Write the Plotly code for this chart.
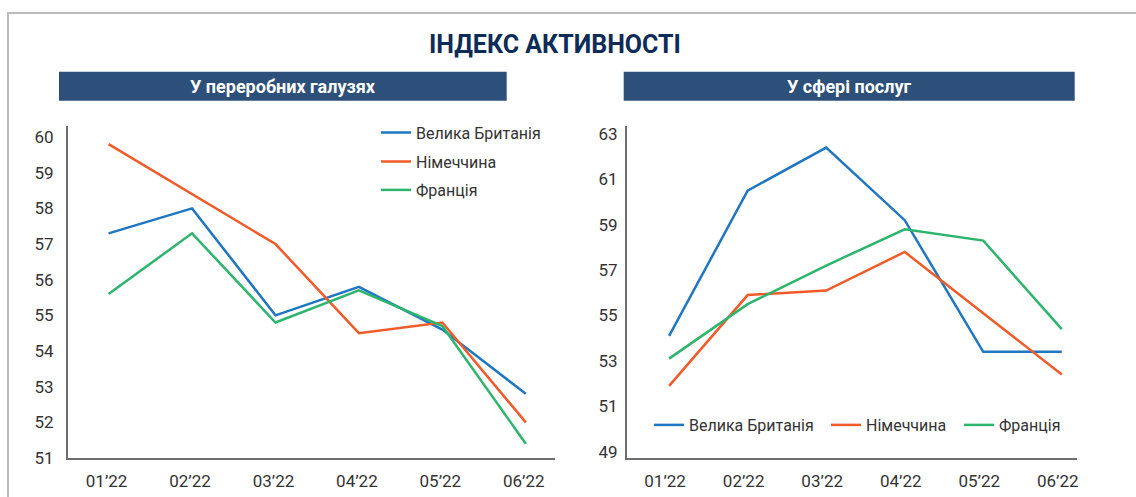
import plotly.graph_objects as go

# ---------------- data ----------------
months = ["01’22", "02’22", "03’22", "04’22", "05’22", "06’22"]
series_names = ["Велика Британія", "Німеччина", "Франція"]

manuf_uk = [57.3, 58.0, 55.0, 55.8, 54.6, 52.8]
manuf_de = [59.8, 58.4, 57.0, 54.5, 54.8, 52.0]
manuf_fr = [55.6, 57.3, 54.8, 55.7, 54.7, 51.4]

serv_uk = [54.1, 60.5, 62.4, 59.2, 53.4, 53.4]
serv_de = [51.9, 55.9, 56.1, 57.8, 55.1, 52.4]
serv_fr = [53.1, 55.5, 57.2, 58.8, 58.3, 54.4]

manuf_ticks = [51, 52, 53, 54, 55, 56, 57, 58, 59, 60]
serv_ticks = [49, 51, 53, 55, 57, 59, 61, 63]

title_text = "ІНДЕКС АКТИВНОСТІ"
panel_titles = ["У переробних галузях", "У сфері послуг"]

# ---------------- style ----------------
W, H = 1136, 497
colors = ["#1f77c2", "#f15a29", "#2db56e"]
FONT = "Roboto, sans-serif"
TXT = "#333333"
AXIS = "#6e6e6e"


def px_x(v):
    return v / W


def px_y(v):
    return 1 - v / H


fig = go.Figure()

manuf = [manuf_uk, manuf_de, manuf_fr]
serv = [serv_uk, serv_de, serv_fr]

left_legends = ["legend", "legend2", "legend3"]
right_legends = ["legend4", "legend5", "legend6"]

for i, name in enumerate(series_names):
    fig.add_trace(go.Scatter(
        x=months, y=manuf[i], mode="lines", name=name,
        line=dict(color=colors[i], width=2.5),
        xaxis="x", yaxis="y", legend=left_legends[i],
    ))
for i, name in enumerate(series_names):
    fig.add_trace(go.Scatter(
        x=months, y=serv[i], mode="lines", name=name,
        line=dict(color=colors[i], width=2.5),
        xaxis="x2", yaxis="y2", legend=right_legends[i],
    ))

axis_common = dict(
    showgrid=False, zeroline=False, showline=True,
    linecolor=AXIS, linewidth=1.5, ticks="",
    tickfont=dict(family=FONT, size=17, color=TXT),
    fixedrange=True, automargin=False,
)

legend_common = dict(
    font=dict(family=FONT, size=16, color=TXT),
    bgcolor="rgba(0,0,0,0)", borderwidth=0,
    xanchor="left", yanchor="middle", orientation="h",
)

layout_legends = {}
left_rows = [132.7, 161.7, 190]
for lg, yy in zip(left_legends, left_rows):
    layout_legends[lg] = dict(legend_common, x=px_x(376), y=px_y(yy))
right_cols = [649, 826, 959]
for lg, xx in zip(right_legends, right_cols):
    layout_legends[lg] = dict(legend_common, x=px_x(xx), y=px_y(425))

fig.update_layout(
    width=W, height=H,
    margin=dict(l=0, r=0, t=0, b=0, autoexpand=False),
    paper_bgcolor="white", plot_bgcolor="white",
    showlegend=True,
    xaxis=dict(axis_common, domain=[px_x(67.7), px_x(555)], range=[-0.49, 5.35],
               type="category", ticklabelstandoff=7, ticklabelshift=-2),
    yaxis=dict(axis_common, domain=[px_y(458), px_y(126)], range=[51, 60.31],
               tickvals=manuf_ticks, ticklabelstandoff=9),
    xaxis2=dict(axis_common, domain=[px_x(626.7), px_x(1076.7)], range=[-0.54, 5.19],
                type="category", ticklabelstandoff=7, ticklabelshift=-4, anchor="y2"),
    yaxis2=dict(axis_common, domain=[px_y(458), px_y(126)], range=[48.72, 63.35],
                tickvals=serv_ticks, ticklabelstandoff=4, anchor="x2"),
    **layout_legends,
)

# outer frame
fig.add_shape(type="rect", xref="paper", yref="paper",
              x0=px_x(8), x1=px_x(1145), y0=px_y(13), y1=px_y(510),
              line=dict(color="#bcbcbc", width=2), fillcolor="rgba(0,0,0,0)", layer="below")

# panel header bars
bars = [(59, 506.7), (623.7, 1074.7)]
for (x0, x1), t in zip(bars, panel_titles):
    fig.add_shape(type="rect", xref="paper", yref="paper",
                  x0=px_x(x0), x1=px_x(x1), y0=px_y(100.7), y1=px_y(71.7),
                  line=dict(width=0), fillcolor="#2c5079", layer="below")
    fig.add_annotation(xref="paper", yref="paper", x=px_x((x0 + x1) / 2), y=px_y(86.2),
                       text="<b>" + t + "</b>", showarrow=False,
                       xanchor="center", yanchor="middle",
                       font=dict(family=FONT, size=18, color="white"))

# main title
fig.add_annotation(xref="paper", yref="paper", x=px_x(555), y=px_y(44),
                   text="<b>" + title_text + "</b>", showarrow=False,
                   xanchor="center", yanchor="middle",
                   font=dict(family=FONT, size=25, color="#0d2c57"))

fig.write_html("out.html")
